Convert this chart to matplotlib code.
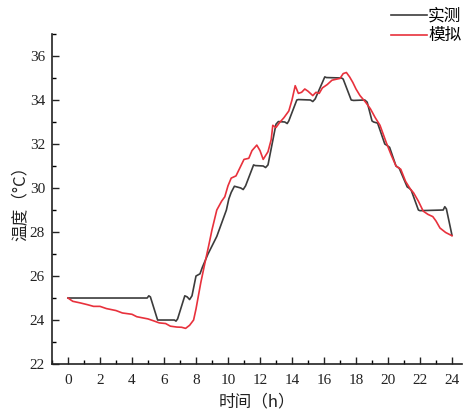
import matplotlib
matplotlib.use("Agg")
import matplotlib.pyplot as plt
from matplotlib.ticker import MultipleLocator

# ---- data ----
meas_h = [0, 4.95, 5.05, 5.15, 5.6, 6.65, 6.75, 6.85, 7.3, 7.45, 7.6, 7.75, 8.0, 8.25,
          8.4, 8.75, 9.3, 9.6, 9.9, 10.05, 10.2, 10.4, 10.8, 10.95, 11.1, 11.6, 11.7,
          12.2, 12.35, 12.5, 13.0, 13.15, 13.55, 13.7, 13.8, 14.3, 14.4, 15.15, 15.3,
          15.45, 16.05, 16.15, 17.1, 17.2, 17.7, 17.85, 18.55, 18.7, 19.0, 19.1, 19.35,
          19.8, 19.95, 20.1, 20.5, 20.7, 21.2, 21.35, 21.45, 21.9, 22.0, 23.45, 23.55,
          23.65, 24.0]
meas_T = [25.0, 25.0, 25.1, 25.05, 24.0, 24.0, 23.95, 24.05, 25.1, 25.05, 24.93, 25.1,
          26.0, 26.1, 26.4, 27.0, 27.8, 28.4, 29.0, 29.5, 29.8, 30.08, 30.0, 29.93, 30.1,
          31.05, 31.02, 31.0, 30.93, 31.05, 32.9, 33.02, 33.0, 32.93, 33.05, 34.0, 34.02,
          34.0, 33.93, 34.05, 35.05, 35.02, 35.0, 34.95, 34.0, 33.98, 34.0, 33.9, 33.05,
          33.0, 32.95, 32.0, 31.93, 31.85, 31.0, 30.9, 30.05, 29.98, 29.9, 29.0, 28.97,
          29.0, 29.15, 29.05, 27.85]

sim_h = [0, 0.3, 0.75, 1.2, 1.6, 2.0, 2.4, 3.0, 3.4, 4.0, 4.3, 5.0, 5.4, 5.7, 6.1, 6.4,
         6.8, 7.1, 7.35, 7.6, 7.85, 8.0, 8.15, 8.3, 8.56, 8.8, 9.0, 9.3, 9.6, 9.8, 10.0,
         10.2, 10.5, 10.8, 11.0, 11.3, 11.5, 11.8, 12.0, 12.2, 12.5, 12.7, 12.8, 13.0,
         13.2, 13.5, 13.8, 14.0, 14.2, 14.4, 14.6, 14.8, 15.0, 15.3, 15.5, 15.7, 15.9,
         16.2, 16.5, 16.8, 17.0, 17.2, 17.4, 17.6, 17.8, 18.0, 18.25, 18.6, 18.9, 19.2,
         19.5, 19.9, 20.2, 20.5, 20.8, 21.1, 21.4, 21.6, 21.9, 22.2, 22.5, 22.8, 23.0,
         23.25, 23.6, 24.0]
sim_T = [25.0, 24.85, 24.78, 24.7, 24.62, 24.62, 24.52, 24.43, 24.32, 24.26, 24.15, 24.05,
         23.95, 23.87, 23.84, 23.72, 23.68, 23.67, 23.62, 23.76, 24.0, 24.5, 25.1, 25.7,
         26.6, 27.4, 28.1, 29.0, 29.4, 29.6, 30.1, 30.45, 30.55, 31.0, 31.3, 31.35, 31.7,
         31.95, 31.7, 31.3, 31.65, 32.2, 32.85, 32.75, 32.95, 33.2, 33.5, 34.0, 34.65,
         34.3, 34.35, 34.5, 34.4, 34.2, 34.35, 34.3, 34.55, 34.7, 34.9, 34.95, 34.98,
         35.2, 35.25, 35.05, 34.8, 34.5, 34.2, 33.9, 33.6, 33.2, 32.85, 32.05, 31.5, 31.0,
         30.85, 30.3, 29.95, 29.78, 29.4, 28.95, 28.8, 28.7, 28.5, 28.18, 27.98, 27.83]

x_ticks = list(range(0, 25, 2))
y_ticks = list(range(22, 37, 2))
series_labels = ["实测", "模拟"]
x_label = "时间（h）"
y_label = "温度（°C）"

plt.rcParams['font.family'] = ['Liberation Serif', 'Noto Sans CJK SC']

fig = plt.figure(figsize=(4.63, 4.13), dpi=100)
ax = fig.add_axes([0.1123, 0.1186, 0.8857, 0.7991])

ax.plot(meas_h, meas_T, color='#3c3c3c', lw=1.2, label=series_labels[0])
ax.plot(sim_h, sim_T, color='#e8313c', lw=1.2, label=series_labels[1])

ax.set_xlim(-1.0, 24.63)
ax.set_ylim(22, 37)
ax.set_xticks(x_ticks)
ax.set_yticks(y_ticks)
ax.xaxis.set_minor_locator(MultipleLocator(1))
ax.yaxis.set_minor_locator(MultipleLocator(1))
ax.tick_params(which='major', direction='in', length=5, width=1, labelsize=11, colors='#222222')
ax.tick_params(which='minor', direction='in', length=3, width=1)
ax.tick_params(axis='x', pad=7)
ax.tick_params(axis='y', pad=5)
for s in ['top', 'right']:
    ax.spines[s].set_visible(False)
for s in ['left', 'bottom']:
    ax.spines[s].set_linewidth(1.2)
    ax.spines[s].set_color('#222222')

ax.set_xlabel(x_label, fontsize=12, family=['Noto Sans CJK SC'], labelpad=5, color='#222222')
ax.set_ylabel(y_label, fontsize=12, family=['Noto Sans CJK SC'], labelpad=1, color='#222222')

fig.legend(loc='upper right', bbox_to_anchor=(1.0, 0.985), frameon=False,
           prop={'family': 'Noto Sans CJK SC', 'size': 12},
           handlelength=2.2, handletextpad=0.05, labelspacing=0.15,
           borderaxespad=0.0, borderpad=0.1)

fig.savefig('out.png', dpi=100)
